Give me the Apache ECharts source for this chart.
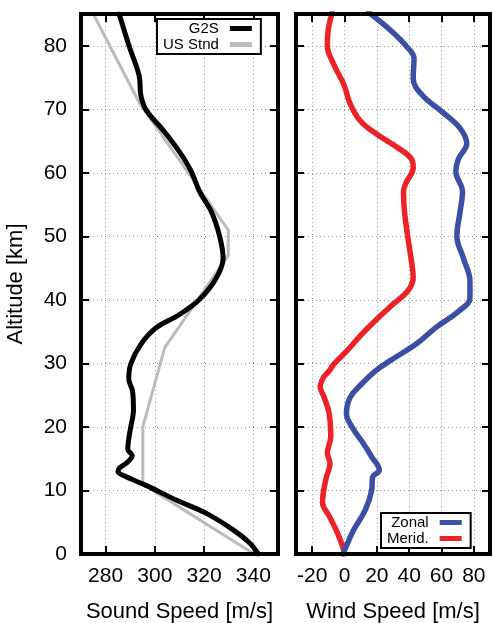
<!DOCTYPE html>
<html>
<head>
<meta charset="utf-8">
<script src="https://cdn.jsdelivr.net/npm/echarts@6/dist/echarts.min.js"></script>
<style>
  html, body { margin: 0; padding: 0; background: #fff; }
  #chart { width: 493px; height: 623px; }
</style>
</head>
<body>
<div id="chart"></div>
<script>
// tick values
var altTicks = [0, 10, 20, 30, 40, 50, 60, 70, 80];
var sndTicks = [280, 300, 320, 340];
var windTicks = [-20, 0, 20, 40, 60, 80];

// G2S sound speed profile
var g2sAlt = [0, 1.7, 3.8, 6.4, 8.5, 10.8, 12.3, 13, 13.6, 14.5, 15.5, 16.5, 17.9, 20, 22.6, 25.7, 27.5, 29.9, 33, 35.6, 37.7, 40.1, 43.5, 46.6, 50, 53.9, 57, 60.2, 63.3, 66.5, 69.9, 72.2, 75.3, 80, 85];
var g2sVal = [342, 338.6, 331.8, 320.9, 308.6, 296.4, 287.5, 285, 285.8, 289, 290.8, 289, 289.3, 290.2, 291.3, 290.9, 289.4, 290.2, 294.3, 300.5, 310, 318.2, 325, 327.7, 326.3, 322.9, 318.2, 314.8, 310, 303.8, 296.4, 294.3, 293.6, 289.5, 285.5];

// US standard atmosphere
var usAlt = [0, 11, 20, 32.5, 47, 51, 71, 85];
var usVal = [340.3, 295.1, 295.1, 304, 329.8, 329.8, 293.7, 275];

// zonal wind
var zonAlt = [0, 0.6, 3.8, 6.9, 10, 12.1, 13.2, 15.3, 17.4, 20, 22.1, 24.7, 26.8, 28.8, 30.4, 33, 35.6, 38.2, 40.3, 42.9, 46.6, 50, 53.9, 57, 60.2, 62.2, 64.6, 67, 69.6, 72.2, 74.9, 78, 80, 82.1, 85.3];
var zonVal = [-1, 0, 5.7, 12.8, 16.8, 17.4, 21.5, 16.8, 11.7, 4.6, 1.2, 3.6, 10.7, 19, 28, 44.1, 56.3, 70.5, 77.6, 77.6, 73.5, 69.5, 71.5, 73, 68.9, 70.5, 75.6, 71.5, 60.4, 48.2, 42.5, 43, 38, 30, 14.8];

// meridional wind
var merAlt = [0, 0.6, 3.4, 6, 8.1, 11.7, 14.3, 15.9, 18.5, 22.1, 24.7, 26.3, 27.8, 28.8, 29.9, 32, 34.6, 37.2, 39.3, 41.4, 43.5, 46.6, 50, 53.9, 57, 58.4, 60.8, 62.3, 64.1, 66.1, 68.2, 70.8, 73.9, 77, 80, 82.6, 85.3];
var merVal = [0, -0.4, -4.5, -9.5, -13.6, -11.6, -9, -10.6, -8.5, -9.5, -12.6, -15, -13, -9.5, -6.5, 1.6, 10.7, 20.9, 30, 39.1, 42.5, 41.1, 39.1, 37.1, 36.5, 38, 42.5, 41.1, 32, 19.8, 9.7, 3.6, -0.4, -6.5, -10.6, -10, -7.5];

function pairs(vals, alts) {
  var out = [];
  for (var i = 0; i < vals.length; i++) out.push([vals[i], alts[i]]);
  return out;
}

var font = 'Liberation Sans, Arial, Helvetica, sans-serif';
var gridLine = { show: true, lineStyle: { color: '#999', width: 1, type: [1, 3] } };
var tick = function (vals) {
  return { show: true, inside: true, length: 8, customValues: vals, lineStyle: { color: '#000', width: 2 } };
};

function xAx(grid, min, max, ticks, name, mirror) {
  return {
    type: 'value', gridIndex: grid, min: min, max: max,
    position: mirror ? 'top' : 'bottom',
    axisLine: { show: false, onZero: false },
    axisTick: tick(ticks),
    axisLabel: mirror ? { show: false } : {
      customValues: ticks, margin: 12, color: '#000', fontSize: 21, fontFamily: font
    },
    splitLine: mirror ? { show: false } : gridLine,
    name: mirror ? '' : name,
    nameLocation: 'middle', nameGap: 47,
    nameTextStyle: { color: '#000', fontSize: 22, fontFamily: font }
  };
}

function yAx(grid, mirror, labels) {
  return {
    type: 'value', gridIndex: grid, min: 0, max: 85,
    position: mirror ? 'right' : 'left',
    axisLine: { show: false, onZero: false },
    axisTick: tick(altTicks),
    axisLabel: labels ? {
      customValues: altTicks, margin: 14, color: '#000', fontSize: 21, fontFamily: font
    } : { show: false },
    splitLine: mirror ? { show: false } : gridLine,
    name: labels ? 'Altitude [km]' : '',
    nameLocation: 'middle', nameGap: 54,
    nameTextStyle: { color: '#000', fontSize: 22, fontFamily: font }
  };
}

function lineSeries(name, xi, yi, data, color, width, smooth) {
  return {
    name: name, type: 'line', xAxisIndex: xi, yAxisIndex: yi,
    data: data, color: color, showSymbol: false, smooth: smooth,
    lineStyle: { color: color, width: width, join: 'round', cap: 'round' },
    itemStyle: { color: color },
    silent: true, animation: false
  };
}

var legendBase = {
  orient: 'vertical', align: 'right', icon: 'rect',
  itemWidth: 22, itemHeight: 5, itemGap: 1,
  backgroundColor: '#fff', borderColor: '#000', borderWidth: 2, borderRadius: 0,
  padding: [2, 9, 2, 6],
  textStyle: { color: '#000', fontSize: 15, fontFamily: font, lineHeight: 15, padding: [0, 6, 0, 0] },
  selectedMode: false
};

var chart = echarts.init(document.getElementById('chart'), null, { renderer: 'canvas' });

var option = {
  animation: false,
  backgroundColor: '#fff',
  grid: [
    { left: 81, top: 14, width: 197, height: 540, outerBoundsMode: 'none', show: true, borderColor: '#000', borderWidth: 4, backgroundColor: 'transparent', z: 5 },
    { left: 296, top: 14, width: 194, height: 540, outerBoundsMode: 'none', show: true, borderColor: '#000', borderWidth: 4, backgroundColor: 'transparent', z: 5 }
  ],
  xAxis: [
    xAx(0, 270, 350, sndTicks, 'Sound Speed [m/s]', false),
    xAx(0, 270, 350, sndTicks, '', true),
    xAx(1, -30, 90, windTicks, 'Wind Speed [m/s]', false),
    xAx(1, -30, 90, windTicks, '', true)
  ],
  yAxis: [
    yAx(0, false, true),
    yAx(0, true, false),
    yAx(1, false, false),
    yAx(1, true, false)
  ],
  legend: [
    Object.assign({}, legendBase, { data: ['G2S', 'US Stnd'], left: 157, top: 19 }),
    Object.assign({}, legendBase, { data: ['Zonal', 'Merid.'], left: 381, top: 513 })
  ],
  series: [
    lineSeries('US Stnd', 0, 0, pairs(usVal, usAlt), '#bbbbbb', 3, false),
    lineSeries('G2S', 0, 0, pairs(g2sVal, g2sAlt), '#000000', 5, 0.35),
    lineSeries('Merid.', 2, 2, pairs(merVal, merAlt), '#ec2227', 5.5, 0.4),
    lineSeries('Zonal', 2, 2, pairs(zonVal, zonAlt), '#3b4fa5', 5.5, 0.4)
  ]
};

chart.setOption(option);
</script>
</body>
</html>
